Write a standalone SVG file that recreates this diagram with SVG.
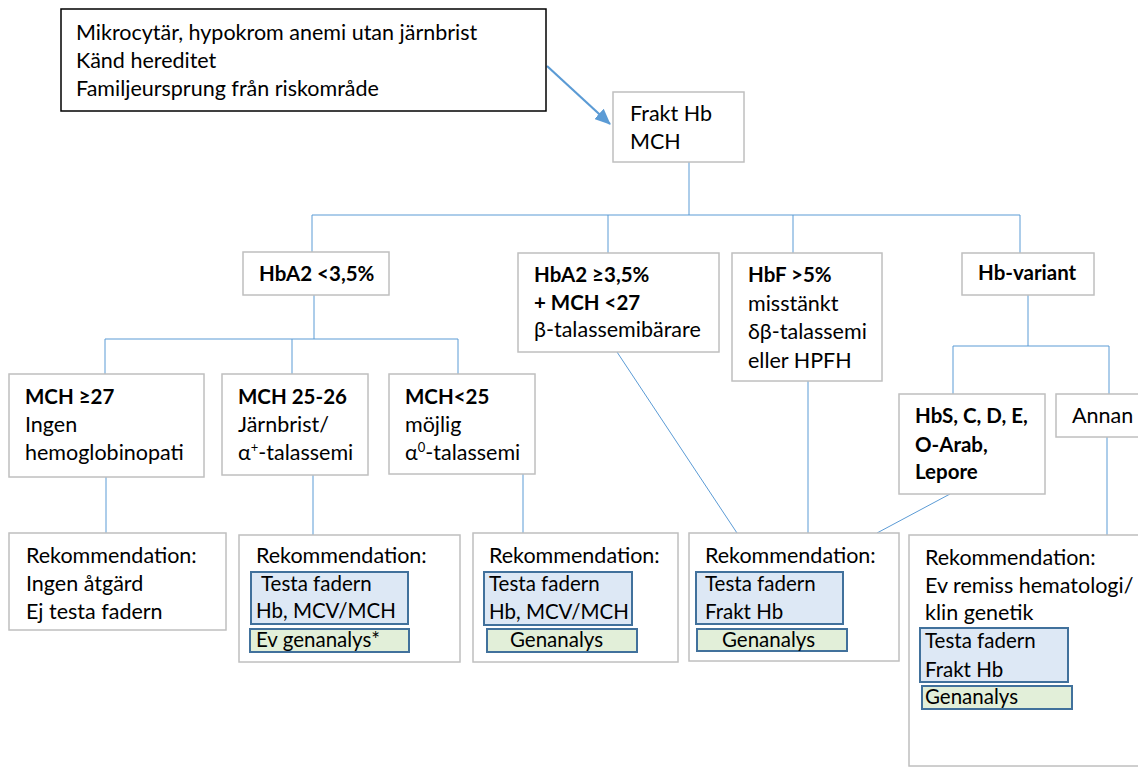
<svg xmlns="http://www.w3.org/2000/svg" width="1138" height="767" viewBox="0 0 1138 767">
<defs>
<marker id="ah" markerWidth="16" markerHeight="14" refX="15" refY="7" orient="auto" markerUnits="userSpaceOnUse">
<path d="M0,0 L16,7 L0,14 z" fill="#5b9bd5"/>
</marker>
<style>
text{font-family:Lato,"Liberation Sans",sans-serif;font-size:21.5px;fill:#000}
.b{font-weight:bold;font-size:20.5px}
.s{font-size:20.5px}
.box{fill:#fff;stroke:#bfbfbf;stroke-width:1.5}
.top{fill:#fff;stroke:#000;stroke-width:1.5}
.blue{fill:#dde8f5;stroke:#41719c;stroke-width:2}
.green{fill:#e2efd9;stroke:#41719c;stroke-width:2}
.c{fill:none;stroke:#5b9bd5;stroke-width:1}
.arrow{fill:none;stroke:#5b9bd5;stroke-width:2.2}
.sup{font-size:13px}
</style>
</defs>
<rect width="1138" height="767" fill="#fff"/>
<g id="connectors">
<line class="arrow" x1="547" y1="66" x2="610" y2="124" marker-end="url(#ah)"/>
<line class="c" x1="689" y1="162" x2="689" y2="215"/>
<line class="c" x1="312" y1="215" x2="1020" y2="215"/>
<line class="c" x1="312" y1="215" x2="312" y2="252"/>
<line class="c" x1="608" y1="215" x2="608" y2="253"/>
<line class="c" x1="793" y1="215" x2="793" y2="253"/>
<line class="c" x1="1020" y1="215" x2="1020" y2="253"/>
<line class="c" x1="314" y1="295" x2="314" y2="339"/>
<line class="c" x1="105" y1="339" x2="458" y2="339"/>
<line class="c" x1="105" y1="339" x2="105" y2="374"/>
<line class="c" x1="292" y1="339" x2="292" y2="374"/>
<line class="c" x1="458" y1="339" x2="458" y2="374"/>
<line class="c" x1="1028" y1="295" x2="1028" y2="346"/>
<line class="c" x1="953" y1="346" x2="1109" y2="346"/>
<line class="c" x1="953" y1="346" x2="953" y2="394"/>
<line class="c" x1="1109" y1="346" x2="1109" y2="394"/>
<line class="c" x1="106" y1="477" x2="106" y2="534"/>
<line class="c" x1="313" y1="475" x2="313" y2="535"/>
<line class="c" x1="523" y1="474" x2="523" y2="533"/>
<line class="c" x1="617" y1="352" x2="737" y2="533"/>
<line class="c" x1="808" y1="381" x2="808" y2="533"/>
<line class="c" x1="950" y1="494" x2="877" y2="533"/>
<line class="c" x1="1107" y1="437" x2="1107" y2="535"/>
</g>
<g id="start">
<rect class="top" x="61" y="9" width="485" height="102"/>
<text x="76" y="40">Mikrocytär, hypokrom anemi utan järnbrist</text>
<text x="76" y="68">Känd hereditet</text>
<text x="76" y="96">Familjeursprung från riskområde</text>
</g>
<g id="frakt">
<rect class="box" x="613" y="92" width="131" height="70"/>
<text x="630" y="121">Frakt Hb</text>
<text x="630" y="149">MCH</text>
</g>
<g id="hba2low">
<rect class="box" x="243" y="252" width="146" height="43"/>
<text class="b" x="259" y="281">HbA2 &lt;3,5%</text>
</g>
<g id="hba2high">
<rect class="box" x="518" y="253" width="201" height="99"/>
<text class="b" x="534" y="282">HbA2 ≥3,5%</text>
<text class="b" x="534" y="310">+ MCH &lt;27</text>
<text x="534" y="337">β-talassemibärare</text>
</g>
<g id="hbf">
<rect class="box" x="732" y="253" width="150" height="128"/>
<text class="b" x="748" y="282">HbF &gt;5%</text>
<text x="748" y="311">misstänkt</text>
<text x="748" y="339">δβ-talassemi</text>
<text x="748" y="368">eller HPFH</text>
</g>
<g id="hbvariant">
<rect class="box" x="962" y="253" width="132" height="42"/>
<text class="b" x="978" y="280">Hb-variant</text>
</g>
<g id="mch27">
<rect class="box" x="9" y="374" width="195" height="103"/>
<text class="b" x="25" y="404">MCH ≥27</text>
<text x="25" y="432">Ingen</text>
<text x="25" y="460">hemoglobinopati</text>
</g>
<g id="mch2526">
<rect class="box" x="222" y="374" width="146" height="101"/>
<text class="b" x="238" y="404">MCH 25-26</text>
<text x="238" y="432">Järnbrist/</text>
<text x="238" y="460">α<tspan class="sup" dy="-8">+</tspan><tspan dy="8">-talassemi</tspan></text>
</g>
<g id="mch25">
<rect class="box" x="389" y="374" width="146" height="100"/>
<text class="b" x="405" y="404">MCH&lt;25</text>
<text x="405" y="432">möjlig</text>
<text x="405" y="460">α<tspan class="sup" dy="-8">0</tspan><tspan dy="8">-talassemi</tspan></text>
</g>
<g id="hbs">
<rect class="box" x="899" y="394" width="146" height="100"/>
<text class="b" x="915" y="423">HbS, C, D, E,</text>
<text class="b" x="915" y="452">O-Arab,</text>
<text class="b" x="915" y="479">Lepore</text>
</g>
<g id="annan">
<rect class="box" x="1056" y="394" width="90" height="43"/>
<text x="1072" y="423">Annan</text>
</g>
<g id="rek1">
<rect class="box" x="9" y="533" width="217" height="97"/>
<text x="26" y="563">Rekommendation:</text>
<text x="26" y="591">Ingen åtgärd</text>
<text x="26" y="619">Ej testa fadern</text>
</g>
<g id="rek2">
<rect class="box" x="239" y="535" width="221" height="127"/>
<text x="256" y="563">Rekommendation:</text>
<rect class="blue" x="251" y="572" width="157" height="52"/>
<text class="s" x="261" y="591">Testa fadern</text>
<text class="s" x="256" y="618">Hb, MCV/MCH</text>
<rect class="green" x="250" y="629" width="159" height="23"/>
<text class="s" x="256" y="647">Ev genanalys*</text>
</g>
<g id="rek3">
<rect class="box" x="473" y="533" width="205" height="129"/>
<text x="489" y="563">Rekommendation:</text>
<rect class="blue" x="484" y="572" width="148" height="53"/>
<text class="s" x="489" y="591">Testa fadern</text>
<text class="s" x="489" y="619">Hb, MCV/MCH</text>
<rect class="green" x="487" y="629" width="150" height="23"/>
<text class="s" x="510" y="647">Genanalys</text>
</g>
<g id="rek4">
<rect class="box" x="689" y="533" width="210" height="128"/>
<text x="705" y="563">Rekommendation:</text>
<rect class="blue" x="696" y="572" width="147" height="52"/>
<text class="s" x="705" y="591">Testa fadern</text>
<text class="s" x="705" y="619">Frakt Hb</text>
<rect class="green" x="697" y="629" width="150" height="22"/>
<text class="s" x="722" y="647">Genanalys</text>
</g>
<g id="rek5">
<rect class="box" x="909" y="535" width="240" height="231"/>
<text x="925" y="565">Rekommendation:</text>
<text x="925" y="593">Ev remiss hematologi/</text>
<text x="925" y="620">klin genetik</text>
<rect class="blue" x="920" y="628" width="148" height="54"/>
<text class="s" x="925" y="648">Testa fadern</text>
<text class="s" x="925" y="677">Frakt Hb</text>
<rect class="green" x="922" y="686" width="150" height="23"/>
<text class="s" x="925" y="704">Genanalys</text>
</g>
</svg>
